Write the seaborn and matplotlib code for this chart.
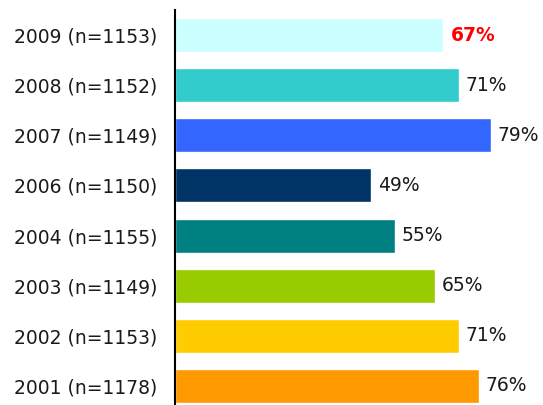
import matplotlib
matplotlib.use("Agg")
import matplotlib.pyplot as plt
import seaborn as sns
import pandas as pd

# survey years, top to bottom
years = ["2009 (n=1153)", "2008 (n=1152)", "2007 (n=1149)", "2006 (n=1150)",
         "2004 (n=1155)", "2003 (n=1149)", "2002 (n=1153)", "2001 (n=1178)"]
values = [67, 71, 79, 49, 55, 65, 71, 76]
colors = ["#CCFFFF", "#33CCCC", "#3366FF", "#003366",
          "#008080", "#99CC00", "#FFCC00", "#FF9900"]

sns.set_theme(style="white")
plt.rcParams['font.family'] = ['DejaVu Sans']

df = pd.DataFrame({"year": years, "value": values})

fig = plt.figure(figsize=(5.43, 4.05), dpi=100)
ax = fig.add_axes([175 / 543, 0, 368 / 543, 395 / 405])

sns.barplot(data=df, x="value", y="year", hue="year", palette=colors,
            legend=False, width=0.68, ax=ax, saturation=1)

# value labels at bar ends, latest year highlighted
for i, v in enumerate(values):
    if i == 0:
        ax.text(v + 2.0, i, f"{v}%", va="center", ha="left", fontsize=13.5,
                color="#FF0000", fontweight="bold")
    else:
        ax.text(v + 1.7, i, f"{v}%", va="center", ha="left", fontsize=13.5,
                color="#1a1a1a")

ax.set_xlim(0, 92)
ax.set_ylim(7.38, -0.5)
ax.set_xlabel("")
ax.set_ylabel("")
ax.set_xticks([])
ax.tick_params(axis="y", length=0, pad=13, labelsize=13.5, labelcolor="#1a1a1a")
for side in ["top", "right", "bottom"]:
    ax.spines[side].set_visible(False)
ax.spines["left"].set_color("black")
ax.spines["left"].set_linewidth(1.5)

fig.savefig("out.png", dpi=100)
